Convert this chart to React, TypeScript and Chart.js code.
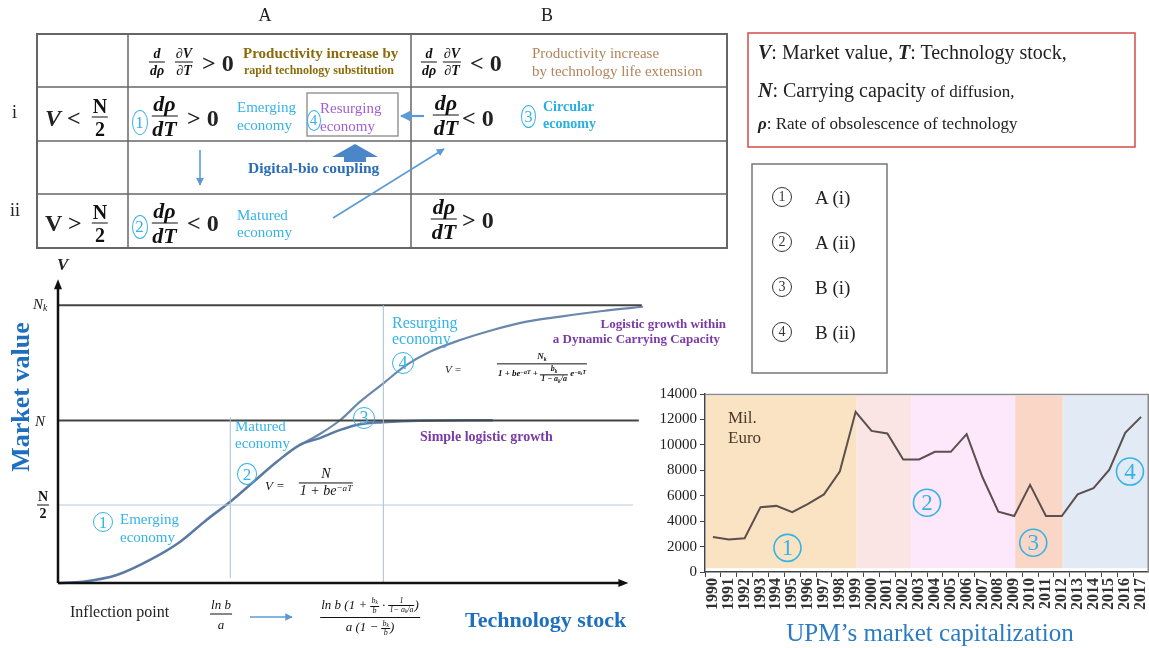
import React, { useEffect, useRef } from "react";
import { Chart, registerables } from "chart.js";
Chart.register(...registerables);

const SERIF = '"Liberation Serif", "Times New Roman", serif';
const CYAN = "#36b3e6";
const PURPLE = "#7a3aa8";
const BLUE = "#1f6fbf";

// ---------- UPM market capitalization (Mil. Euro) ----------
const years = [
  "1990", "1991", "1992", "1993", "1994", "1995", "1996", "1997", "1998", "1999",
  "2000", "2001", "2002", "2003", "2004", "2005", "2006", "2007", "2008", "2009",
  "2010", "2011", "2012", "2013", "2014", "2015", "2016", "2017",
];
const marketCap = [
  2750, 2550, 2650, 5100, 5200, 4700, 5350, 6100, 7900, 12600,
  11100, 10900, 8850, 8850, 9450, 9450, 10850, 7450, 4750, 4400,
  6850, 4400, 4400, 6100, 6600, 8050, 10950, 12200,
];
const capTicks = [0, 2000, 4000, 6000, 8000, 10000, 12000, 14000];
// phase bands in category-index units
const phaseFrom = [-0.5, 9, 12.45, 19, 22];
const phaseTo = [9, 12.45, 19, 22, 27.5];
const phaseColors = ["#f9e3c2", "#fbe4e4", "#fde7fb", "#fad6c7", "#e2ebf5"];
const phaseMarks = ["1", "2", "3", "4"];
const phaseMarkAt = [4.7, 13.5, 20.2, 26.3];
const phaseMarkVal = [1900, 5450, 2300, 7900];

// ---------- Logistic diagram ----------
const simpleX = [0, 4.3, 10.1, 15.8, 21.0, 25.5, 29.6, 33.6, 37.6, 41.5, 45.0, 48.5, 51.9, 55.8, 62.2, 74.7];
const simpleY = [0, 0.8, 4.9, 14.2, 25.4, 38.8, 50.0, 62.3, 74.6, 84.9, 89.2, 94.2, 97.7, 98.9, 99.9, 100.2];
const dynamicX = [41.5, 45.0, 48.5, 51.9, 55.9, 59.9, 63.9, 69.1, 74.7, 80.5, 86.3, 93.6, 100.5];
const dynamicY = [84.9, 91.7, 100.3, 111.6, 122.9, 134.2, 142.3, 149.5, 155.7, 160.8, 163.9, 167.4, 170.0];
const levelNk = 171;
const levelN = 100;
const levelHalfN = 48;
const inflectionT = 29.6;
const resurgeT = 55.9;

const pts = (xs: number[], ys: number[]) => xs.map((x, i) => ({ x, y: ys[i] }));

function UpmChart() {
  const ref = useRef<HTMLCanvasElement>(null);
  useEffect(() => {
    const bands = {
      id: "bands",
      beforeDatasetsDraw(c: any) {
        const { ctx, chartArea } = c;
        const xs = c.scales.x, ys = c.scales.y;
        ctx.save();
        const top = ys.getPixelForValue(13850), bot = ys.getPixelForValue(300);
        phaseFrom.forEach((f, i) => {
          const l = xs.getPixelForValue(f);
          const r = i === phaseFrom.length - 1 ? chartArea.right - 1.5 : xs.getPixelForValue(phaseTo[i]);
          ctx.fillStyle = phaseColors[i];
          ctx.fillRect(l + 1, top, r - l, bot - top);
        });
        ctx.restore();
      },
      afterDraw(c: any) {
        const { ctx, chartArea } = c;
        const xs = c.scales.x, ys = c.scales.y;
        ctx.save();
        ctx.strokeStyle = "#8a8a8a";
        ctx.lineWidth = 1.5;
        ctx.beginPath();
        ctx.moveTo(chartArea.left, chartArea.top + 0.5);
        ctx.lineTo(chartArea.right - 0.75, chartArea.top + 0.5);
        ctx.lineTo(chartArea.right - 0.75, chartArea.bottom);
        ctx.stroke();
        phaseMarks.forEach((m, i) => {
          const x = xs.getPixelForValue(phaseMarkAt[i]);
          const y = ys.getPixelForValue(phaseMarkVal[i]);
          ctx.strokeStyle = CYAN;
          ctx.lineWidth = 1.6;
          ctx.beginPath();
          ctx.arc(x, y, 13.5, 0, Math.PI * 2);
          ctx.stroke();
          ctx.fillStyle = CYAN;
          ctx.font = `23px ${SERIF}`;
          ctx.textAlign = "center";
          ctx.textBaseline = "middle";
          ctx.fillText(m, x, y + 1);
        });
        ctx.restore();
      },
    };
    const chart = new Chart(ref.current!, {
      type: "line",
      data: {
        labels: years,
        datasets: [
          {
            data: marketCap,
            borderColor: "#5b4f4f",
            borderWidth: 2,
            pointRadius: 0,
            tension: 0,
            fill: false,
          },
        ],
      },
      options: {
        animation: false,
        responsive: false,
        maintainAspectRatio: false,
        layout: { padding: { top: 14, right: 0, left: 0, bottom: 0 } },
        plugins: { legend: { display: false }, tooltip: { enabled: false } },
        scales: {
          x: {
            type: "category",
            offset: true,
            grid: { display: true, drawOnChartArea: false, drawTicks: true, tickLength: 5, color: "#444", offset: true },
            border: { color: "#444", width: 1.5 },
            ticks: {
              autoSkip: false,
              maxRotation: 90,
              minRotation: 90,
              padding: 1,
              color: "#333",
              font: { family: SERIF, size: 16, weight: "bold" },
            },
            afterFit: (s: any) => { s.height = 76; s.paddingLeft = 0; s.paddingRight = 0; },
          },
          y: {
            min: 0,
            max: 14000,
            afterBuildTicks: (s: any) => { s.ticks = capTicks.map((v) => ({ value: v })); },
            grid: { display: true, drawOnChartArea: false, drawTicks: true, tickLength: 5, color: "#444" },
            border: { color: "#444", width: 1.5 },
            ticks: {
              padding: 3,
              color: "#222",
              font: { family: SERIF, size: 15 },
              callback: (v: any) => String(v),
            },
            afterFit: (s: any) => { s.width = 65; s.paddingTop = 0; s.paddingBottom = 0; },
          },
        },
      },
      plugins: [bands],
    } as any);
    return () => chart.destroy();
  }, []);
  return (
    <canvas
      ref={ref}
      width={509}
      height={268}
      style={{ position: "absolute", left: 640, top: 380, width: 509, height: 268 }}
    />
  );
}

function LogisticChart() {
  const ref = useRef<HTMLCanvasElement>(null);
  useEffect(() => {
    const axes = {
      id: "axes",
      afterDatasetsDraw(c: any) {
        const { ctx } = c;
        const xs = c.scales.x, ys = c.scales.y;
        const ox = xs.getPixelForValue(0), oy = ys.getPixelForValue(0);
        const ty = ys.getPixelForValue(187), rx = xs.getPixelForValue(98);
        ctx.save();
        ctx.strokeStyle = "#111";
        ctx.fillStyle = "#111";
        ctx.lineWidth = 2.5;
        ctx.beginPath();
        ctx.moveTo(ox, oy);
        ctx.lineTo(ox, ty + 6);
        ctx.moveTo(ox, oy);
        ctx.lineTo(rx - 6, oy);
        ctx.stroke();
        ctx.beginPath();
        ctx.moveTo(ox, ty);
        ctx.lineTo(ox - 4, ty + 10);
        ctx.lineTo(ox + 4, ty + 10);
        ctx.closePath();
        ctx.fill();
        ctx.beginPath();
        ctx.moveTo(rx, oy);
        ctx.lineTo(rx - 10, oy - 4);
        ctx.lineTo(rx - 10, oy + 4);
        ctx.closePath();
        ctx.fill();
        ctx.restore();
      },
    };
    const guide = (data: any[], color: string, width: number) => ({
      data,
      borderColor: color,
      borderWidth: width,
      pointRadius: 0,
      showLine: true,
      clip: false,
    });
    const chart = new Chart(ref.current!, {
      type: "scatter",
      data: {
        datasets: [
          guide([{ x: 0, y: levelHalfN }, { x: 98.8, y: levelHalfN }], "#b9cbd4", 1),
          guide([{ x: inflectionT, y: 3 }, { x: inflectionT, y: 102 }], "#a9bfcb", 1),
          guide([{ x: resurgeT, y: 0 }, { x: resurgeT, y: levelNk }], "#a9bfcb", 1),
          guide([{ x: 0, y: levelNk }, { x: 100.3, y: levelNk }], "#444", 2),
          guide([{ x: 0, y: levelN }, { x: 99.8, y: levelN }], "#444", 2),
          {
            data: pts(simpleX, simpleY),
            borderColor: "#5a7aa3",
            borderWidth: 2.5,
            pointRadius: 0,
            showLine: true,
            cubicInterpolationMode: "monotone",
            clip: false,
          },
          {
            data: pts(dynamicX, dynamicY),
            borderColor: "#6a88ad",
            borderWidth: 2.2,
            pointRadius: 0,
            showLine: true,
            cubicInterpolationMode: "monotone",
            clip: false,
          },
        ],
      },
      options: {
        animation: false,
        responsive: false,
        maintainAspectRatio: false,
        layout: { padding: { left: 58, right: 20, top: 8, bottom: 27 } },
        plugins: { legend: { display: false }, tooltip: { enabled: false } },
        scales: {
          x: { type: "linear", min: 0, max: 100, display: false },
          y: { type: "linear", min: 0, max: 200, display: false },
        },
      },
      plugins: [axes],
    } as any);
    return () => chart.destroy();
  }, []);
  return (
    <canvas
      ref={ref}
      width={660}
      height={360}
      style={{ position: "absolute", left: 0, top: 250, width: 660, height: 360 }}
    />
  );
}

type TP = {
  x: number; y: number; size: number; color?: string; weight?: any; italic?: boolean;
  anchor?: "left" | "center" | "right"; family?: string; children: any; style?: any;
};
function Txt({ x, y, size, color = "#222", weight = "normal", italic = false, anchor = "left", family = SERIF, children, style }: TP) {
  const tx = anchor === "left" ? "0" : anchor === "center" ? "-50%" : "-100%";
  return (
    <div
      style={{
        position: "absolute", left: x, top: y, transform: `translate(${tx},-50%)`,
        fontSize: size, color, fontWeight: weight, fontStyle: italic ? "italic" : "normal",
        fontFamily: family, lineHeight: 1, whiteSpace: "nowrap", ...style,
      }}
    >
      {children}
    </div>
  );
}

function Frac({ n, d, size, weight = "bold", italic = true, color = "#111", bar = 1.5, gap = 1 }: any) {
  return (
    <span
      style={{
        display: "inline-flex", flexDirection: "column", alignItems: "center", verticalAlign: "middle",
        fontSize: size, fontWeight: weight, fontStyle: italic ? "italic" : "normal", color, lineHeight: 1,
      }}
    >
      <span style={{ padding: `0 1px ${gap}px` }}>{n}</span>
      <span style={{ alignSelf: "stretch", borderTop: `${bar}px solid ${color}` }} />
      <span style={{ padding: `${gap}px 1px 0` }}>{d}</span>
    </span>
  );
}

function FracAt({ x, y, ...rest }: any) {
  return (
    <div style={{ position: "absolute", left: x, top: y, transform: "translate(-50%,-50%)", fontFamily: SERIF, lineHeight: 1, whiteSpace: "nowrap" }}>
      <Frac {...rest} />
    </div>
  );
}

function Circ({ x, y, w, h, n, color = CYAN, size = 16, stroke = 1.3 }: any) {
  return (
    <div
      style={{
        position: "absolute", left: x - w / 2, top: y - h / 2, width: w, height: h, boxSizing: "border-box",
        border: `${stroke}px solid ${color}`, borderRadius: "50%", color, fontFamily: SERIF, fontSize: size,
        display: "flex", alignItems: "center", justifyContent: "center", lineHeight: 1, background: "transparent",
      }}
    >
      {n}
    </div>
  );
}

const Sub = ({ children }: any) => <span style={{ fontSize: "0.65em", verticalAlign: "-0.25em" }}>{children}</span>;
const Sup = ({ children }: any) => <span style={{ fontSize: "0.65em", verticalAlign: "0.45em" }}>{children}</span>;

function Overlay() {
  return (
    <svg width={1149} height={648} style={{ position: "absolute", left: 0, top: 0, pointerEvents: "none" }}>
      <defs>
        <marker id="ah" viewBox="0 0 10 10" refX="9" refY="5" markerWidth="5" markerHeight="5" orient="auto">
          <path d="M0,0 L10,5 L0,10 z" fill="#5b9bd5" />
        </marker>
      </defs>
      {/* table */}
      <rect x={37} y={34} width={690} height={214} fill="none" stroke="#666" strokeWidth={2} />
      <line x1={128} y1={34} x2={128} y2={248} stroke="#666" strokeWidth={1.5} />
      <line x1={411} y1={34} x2={411} y2={248} stroke="#666" strokeWidth={1.5} />
      <line x1={37} y1={87} x2={727} y2={87} stroke="#666" strokeWidth={1.5} />
      <line x1={37} y1={141} x2={727} y2={141} stroke="#666" strokeWidth={1.5} />
      <line x1={37} y1={194} x2={727} y2={194} stroke="#666" strokeWidth={1.5} />
      <rect x={307} y={93} width={91} height={43} fill="none" stroke="#888" strokeWidth={1.3} />
      <line x1={424} y1={116} x2={401} y2={116} stroke="#5b9bd5" strokeWidth={2.2} markerEnd="url(#ah)" />
      <line x1={200} y1={150} x2={200} y2={185} stroke="#5b9bd5" strokeWidth={1.6} markerEnd="url(#ah)" />
      <line x1={333} y1={218} x2={444} y2={149} stroke="#5b9bd5" strokeWidth={1.6} markerEnd="url(#ah)" />
      <polygon points="332,157 355,144 378,157 366,157 366,162 344,162 344,157" fill="#4a86c8" />
      {/* right boxes */}
      <rect x={748} y={33} width={387} height={114} fill="none" stroke="#d64b4b" strokeWidth={1.5} />
      <rect x={752} y={164} width={135} height={209} fill="none" stroke="#777" strokeWidth={1.5} />
      {/* bottom arrow */}
      <line x1={250} y1={617} x2={292} y2={617} stroke="#5b9bd5" strokeWidth={1.5} markerEnd="url(#ah)" />
    </svg>
  );
}

export default function App() {
  const gold = "#8b6a0a";
  const tan = "#b3845c";
  return (
    <div style={{ position: "absolute", left: 0, top: 0, width: 1149, height: 648, overflow: "hidden", background: "#fff", fontFamily: SERIF }}>
      <LogisticChart />
      <UpmChart />
      <Overlay />

      {/* table headers */}
      <Txt x={265} y={15} size={18} anchor="center">A</Txt>
      <Txt x={547} y={15} size={18} anchor="center">B</Txt>
      <Txt x={12} y={112} size={18}>i</Txt>
      <Txt x={10} y={210} size={18}>ii</Txt>

      {/* row 1 */}
      <FracAt x={157} y={62} n="d" d="dρ" size={14} />
      <FracAt x={184} y={62} n="∂V" d="∂T" size={14} />
      <Txt x={202} y={63} size={24} weight="bold">&gt; 0</Txt>
      <Txt x={243} y={53} size={15} weight="bold" color={gold}>Productivity increase by</Txt>
      <Txt x={244} y={70} size={12} weight="bold" color={gold}>rapid technology substitution</Txt>
      <FracAt x={429} y={62} n="d" d="dρ" size={14} />
      <FracAt x={452} y={62} n="∂V" d="∂T" size={14} />
      <Txt x={470} y={63} size={24} weight="bold">&lt; 0</Txt>
      <Txt x={532} y={53} size={15} color={tan}>Productivity increase</Txt>
      <Txt x={532} y={71} size={15} color={tan}>by technology life extension</Txt>

      {/* row 2 */}
      <Txt x={45} y={118} size={24} weight="bold"><i>V</i> &lt;</Txt>
      <FracAt x={100} y={117} n="N" d="2" size={20} italic={false} />
      <Circ x={139.5} y={122} w={16} h={25} n="1" size={17} />
      <FracAt x={164.5} y={116} n="dρ" d="dT" size={22} />
      <Txt x={187} y={118} size={24} weight="bold">&gt; 0</Txt>
      <Txt x={237} y={107} size={15} color={CYAN}>Emerging</Txt>
      <Txt x={237} y={125} size={15} color={CYAN}>economy</Txt>
      <Circ x={313.5} y={120} w={14} h={21} n="4" size={15} />
      <Txt x={320} y={108} size={15} color="#a35fd0">Resurging</Txt>
      <Txt x={320} y={126} size={15} color="#a35fd0">economy</Txt>
      <FracAt x={446} y={115} n="dρ" d="dT" size={22} />
      <Txt x={462} y={118} size={24} weight="bold">&lt; 0</Txt>
      <Circ x={528.5} y={116.5} w={15} h={23} n="3" size={16} />
      <Txt x={543} y={107} size={14} weight="bold" color="#27b0e0">Circular</Txt>
      <Txt x={543} y={124} size={14} weight="bold" color="#27b0e0">economy</Txt>

      {/* row 3 */}
      <Txt x={248} y={168} size={15.5} weight="bold" color="#2c6db5">Digital-bio coupling</Txt>

      {/* row 4 */}
      <Txt x={45} y={223} size={24} weight="bold">V &gt;</Txt>
      <FracAt x={100} y={223} n="N" d="2" size={20} italic={false} />
      <Circ x={139.5} y={226.5} w={16} h={24} n="2" size={17} />
      <FracAt x={164.5} y={223} n="dρ" d="dT" size={22} />
      <Txt x={187} y={223} size={24} weight="bold">&lt; 0</Txt>
      <Txt x={237} y={215} size={15} color={CYAN}>Matured</Txt>
      <Txt x={237} y={232} size={15} color={CYAN}>economy</Txt>
      <FracAt x={444} y={219} n="dρ" d="dT" size={22} />
      <Txt x={462} y={220} size={24} weight="bold">&gt; 0</Txt>

      {/* left diagram labels */}
      <Txt x={57} y={264} size={17} weight="bold" italic>V</Txt>
      <Txt x={33} y={305} size={15} italic>N<Sub>k</Sub></Txt>
      <Txt x={35} y={421} size={15} italic>N</Txt>
      <FracAt x={43} y={505} n="N" d="2" size={14} italic={false} bar={1.2} />
      <Txt x={21} y={397} size={26} weight="bold" color={BLUE} anchor="center" style={{ transform: "translate(-50%,-50%) rotate(-90deg)" }}>Market value</Txt>
      <Txt x={465} y={620} size={22} weight="bold" color={BLUE}>Technology stock</Txt>

      <Circ x={103} y={522} w={20} h={20} n="1" size={17} />
      <Txt x={120} y={519} size={15} color={CYAN}>Emerging</Txt>
      <Txt x={120} y={537} size={15} color={CYAN}>economy</Txt>
      <Circ x={247} y={474} w={20} h={22} n="2" size={17} />
      <Txt x={235} y={426} size={15} color={CYAN}>Matured</Txt>
      <Txt x={235} y={443} size={15} color={CYAN}>economy</Txt>
      <Circ x={364} y={418} w={22} h={22} n="3" size={18} />
      <Circ x={403} y={363} w={22} h={22} n="4" size={18} />
      <Txt x={392} y={323} size={16} color={CYAN}>Resurging</Txt>
      <Txt x={392} y={339} size={16} color={CYAN}>economy</Txt>
      <Txt x={420} y={437} size={14} weight="bold" color={PURPLE}>Simple logistic growth</Txt>
      <Txt x={726} y={323} size={13} weight="bold" color={PURPLE} anchor="right">Logistic growth within</Txt>
      <Txt x={720} y={338} size={13} weight="bold" color={PURPLE} anchor="right">a Dynamic Carrying Capacity</Txt>

      <Txt x={265} y={485} size={13} italic>V =</Txt>
      <FracAt x={326} y={483} n="N" d={<span>1 + <i>be</i><Sup>−aT</Sup></span>} size={14} weight="normal" bar={1} />
      <Txt x={445} y={369} size={11} italic>V =</Txt>
      <FracAt
        x={542}
        y={368}
        n={<span>N<Sub>k</Sub></span>}
        d={
          <span>
            1 + be<Sup>−aT</Sup> + <Frac n={<span>b<Sub>k</Sub></span>} d={<span>1 − a<Sub>k</Sub>/a</span>} size={8} bar={0.8} gap={0} /> e<Sup>−a<Sub>k</Sub>T</Sup>
          </span>
        }
        size={9}
        bar={0.8}
      />

      {/* inflection point formula */}
      <Txt x={70} y={612} size={16}>Inflection point</Txt>
      <FracAt x={221} y={614} n="ln b" d="a" size={13} weight="normal" bar={1} gap={3} />
      <FracAt
        x={370}
        y={617}
        n={
          <span>
            ln <i>b</i> (1 + <Frac n={<span>b<Sub>k</Sub></span>} d="b" size={8} weight="normal" bar={0.7} gap={0} /> ·{" "}
            <Frac n="1" d={<span>1− a<Sub>k</Sub>/a</span>} size={8} weight="normal" bar={0.7} gap={0} />)
          </span>
        }
        d={
          <span>
            a (1 − <Frac n={<span>b<Sub>k</Sub></span>} d="b" size={8} weight="normal" bar={0.7} gap={0} />)
          </span>
        }
        size={13}
        weight="normal"
        bar={1}
        gap={2}
      />

      {/* red definition box */}
      <Txt x={758} y={52} size={20}><b><i>V</i></b>: Market value, <b><i>T</i></b>: Technology stock,</Txt>
      <Txt x={758} y={90} size={20}><b><i>N</i></b>: Carrying capacity <span style={{ fontSize: 17 }}>of diffusion,</span></Txt>
      <Txt x={758} y={123} size={17}><b><i>ρ</i></b>: Rate of obsolescence of technology</Txt>

      {/* legend box */}
      <Circ x={782} y={197} w={20} h={20} n="1" size={14} color="#333" stroke={1.2} />
      <Txt x={815} y={197} size={19}>A (i)</Txt>
      <Circ x={782} y={242} w={20} h={20} n="2" size={14} color="#333" stroke={1.2} />
      <Txt x={815} y={242} size={19}>A (ii)</Txt>
      <Circ x={782} y={287} w={20} h={20} n="3" size={14} color="#333" stroke={1.2} />
      <Txt x={815} y={287} size={19}>B (i)</Txt>
      <Circ x={782} y={332} w={20} h={20} n="4" size={14} color="#333" stroke={1.2} />
      <Txt x={815} y={332} size={19}>B (ii)</Txt>

      {/* UPM chart texts */}
      <Txt x={728} y={417} size={17} color="#4b3a2a">Mil.</Txt>
      <Txt x={728} y={437} size={17} color="#4b3a2a">Euro</Txt>
      <Txt x={930} y={632} size={25} color="#2a7bc4" anchor="center">UPM’s market capitalization</Txt>
    </div>
  );
}
